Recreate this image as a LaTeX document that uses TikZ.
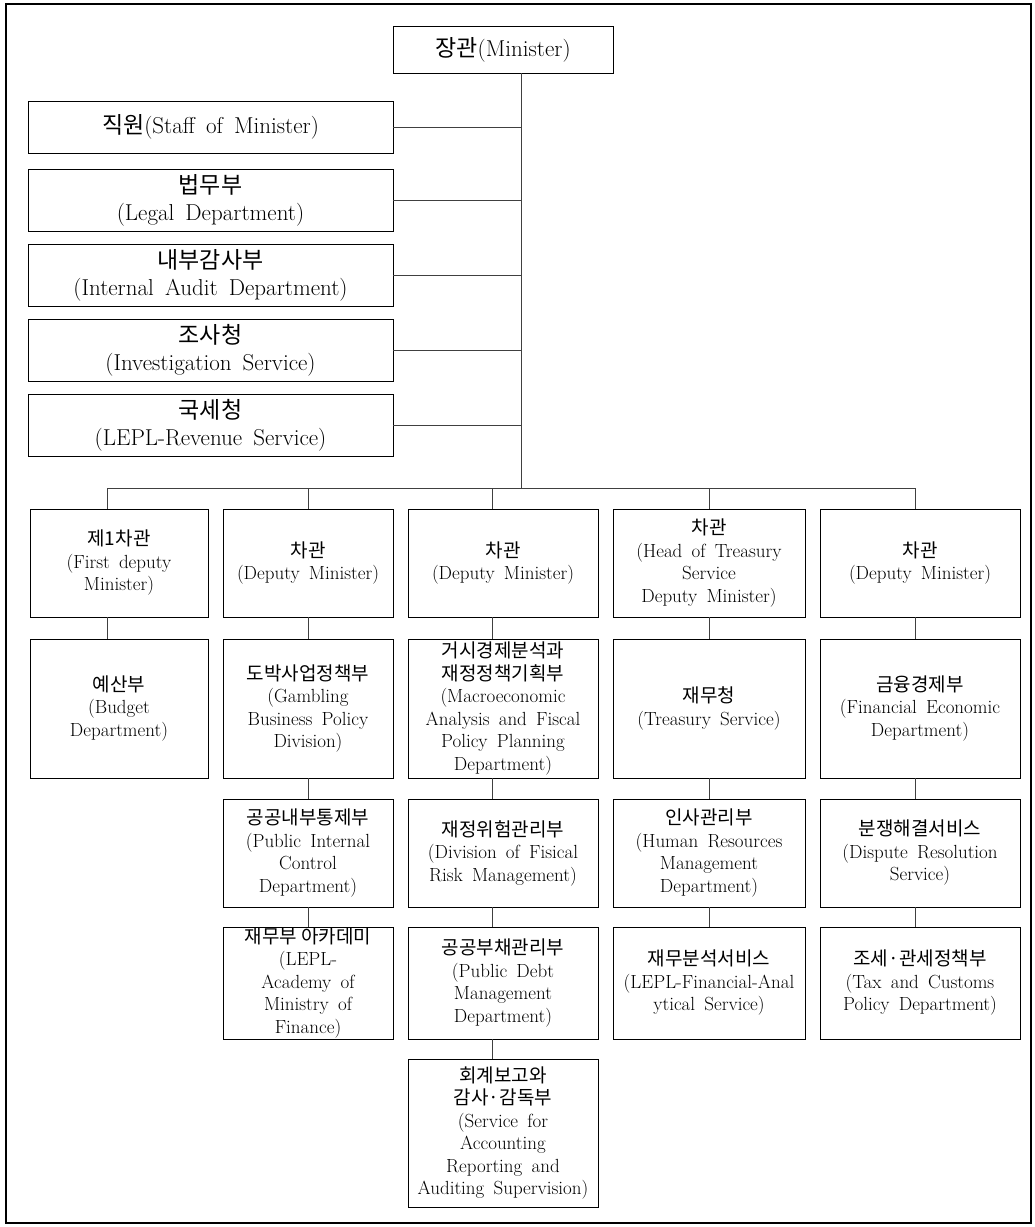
\documentclass[tikz,border=0pt]{standalone}
\usepackage{fontspec}
\setmainfont{Latin Modern Roman}[WordSpace=1.6]
\newfontfamily\kr{Noto Sans CJK KR}
\newcommand\lowf{\fontsize{19}{22.5}\selectfont}
\newcommand\topf{\fontsize{23}{27}\selectfont}
\begin{document}
\begin{tikzpicture}[x=1pt,y=-1pt,
  box/.style={draw=black,line width=0.8pt,inner sep=0pt,align=center,font=\lowf},
  topbox/.style={box,font=\topf,minimum width=365},
  colA/.style={box,minimum width=178},
  colB/.style={box,minimum width=170},
  colC/.style={box,minimum width=190},
  colD/.style={box,minimum width=192},
  colE/.style={box,minimum width=200},
  rowA/.style={minimum height=108},
  rowB/.style={minimum height=139},
  rowC/.style={minimum height=108},
  rowD/.style={minimum height=112},
  rowE/.style={minimum height=148},
  link/.style={draw=black!75,line width=0.9pt}]
\useasboundingbox (0,0) rectangle (1035,1227);
\draw[line width=1.6pt] (6,4) rectangle (1031,1223);

% top part
\node[box,font=\topf,minimum width=220,minimum height=47] (min) at (503,49.5) {{\kr 장관}(Minister)};
\node[topbox,minimum height=52] (staff) at (210.5,127) {{\kr 직원}(Staff of Minister)};
\node[topbox,minimum height=62] (legal) at (210.5,200) {{\kr 법무부}\\(Legal Department)};
\node[topbox,minimum height=62] (audit) at (210.5,275) {{\kr 내부감사부}\\(Internal Audit Department)};
\node[topbox,minimum height=62] (invest) at (210.5,350) {{\kr 조사청}\\(Investigation Service)};
\node[topbox,minimum height=62] (rev) at (210.5,425) {{\kr 국세청}\\(LEPL-Revenue Service)};

% column 1
\node[colA,rowA] (a1) at (119,563) {{\kr 제1차관}\\(First deputy\\Minister)};
\node[colA,rowB] (a2) at (119,708.5) {{\kr 예산부}\\(Budget\\Department)};
% column 2
\node[colB,rowA] (b1) at (308,563) {{\kr 차관}\\(Deputy Minister)};
\node[colB,rowB] (b2) at (308,708.5) {{\kr 도박사업정책부}\\(Gambling\\Business Policy\\Division)};
\node[colB,rowC] (b3) at (308,853) {{\kr 공공내부통제부}\\(Public Internal\\Control\\Department)};
\node[colB,rowD] (b4) at (308,983) {{\kr 재무부 아카데미}\\(LEPL-\\Academy of\\Ministry of\\Finance)};
% column 3
\node[colC,rowA] (c1) at (503,563) {{\kr 차관}\\(Deputy Minister)};
\node[colC,rowB] (c2) at (503,708.5) {{\kr 거시경제분석과}\\{\kr 재정정책기획부}\\(Macroeconomic\\Analysis and Fiscal\\Policy Planning\\Department)};
\node[colC,rowC] (c3) at (503,853) {{\kr 재정위험관리부}\\(Division of Fisical\\Risk Management)};
\node[colC,rowD] (c4) at (503,983) {{\kr 공공부채관리부}\\(Public Debt\\Management\\Department)};
\node[colC,rowE] (c5) at (503,1133) {{\kr 회계보고와}\\{\kr 감사·감독부}\\(Service for\\Accounting\\Reporting and\\Auditing Supervision)};
% column 4
\node[colD,rowA] (d1) at (709,563) {{\kr 차관}\\(Head of Treasury\\Service\\Deputy Minister)};
\node[colD,rowB] (d2) at (709,708.5) {{\kr 재무청}\\(Treasury Service)};
\node[colD,rowC] (d3) at (709,853) {{\kr 인사관리부}\\(Human Resources\\Management\\Department)};
\node[colD,rowD] (d4) at (709,983) {{\kr 재무분석서비스}\\(LEPL-Financial-Anal\\ytical Service)};
% column 5
\node[colE,rowA] (e1) at (920,563) {{\kr 차관}\\(Deputy Minister)};
\node[colE,rowB] (e2) at (920,708.5) {{\kr 금융경제부}\\(Financial Economic\\Department)};
\node[colE,rowC] (e3) at (920,853) {{\kr 분쟁해결서비스}\\(Dispute Resolution\\Service)};
\node[colE,rowD] (e4) at (920,983) {{\kr 조세·관세정책부}\\(Tax and Customs\\Policy Department)};

% connectors
\coordinate (hub) at (521,488);
\coordinate (k1) at (107,488);
\coordinate (k2) at (308,488);
\coordinate (k3) at (492,488);
\coordinate (k4) at (709,488);
\coordinate (k5) at (915,488);
\draw[link] (min.south -| hub) -- (hub);
\foreach \n in {staff,legal,audit,invest,rev} \draw[link] (\n.east) -- (\n.east -| hub);
\draw[link] (k1) -- (k5);
\draw[link] (k1) -- (k1 |- a1.north);
\draw[link] (k2) -- (k2 |- b1.north);
\draw[link] (k3) -- (k3 |- c1.north);
\draw[link] (k4) -- (k4 |- d1.north);
\draw[link] (k5) -- (k5 |- e1.north);
\draw[link] (a1.south -| k1) -- (a2.north -| k1);
\draw[link] (b1.south -| k2) -- (b2.north -| k2);
\draw[link] (b2.south -| k2) -- (b3.north -| k2);
\draw[link] (b3.south -| k2) -- (b4.north -| k2);
\draw[link] (c1.south -| k3) -- (c2.north -| k3);
\draw[link] (c2.south -| k3) -- (c3.north -| k3);
\draw[link] (c3.south -| k3) -- (c4.north -| k3);
\draw[link] (c4.south -| k3) -- (c5.north -| k3);
\draw[link] (d1.south -| k4) -- (d2.north -| k4);
\draw[link] (d2.south -| k4) -- (d3.north -| k4);
\draw[link] (d3.south -| k4) -- (d4.north -| k4);
\draw[link] (e1.south -| k5) -- (e2.north -| k5);
\draw[link] (e2.south -| k5) -- (e3.north -| k5);
\draw[link] (e3.south -| k5) -- (e4.north -| k5);
\end{tikzpicture}
\end{document}
